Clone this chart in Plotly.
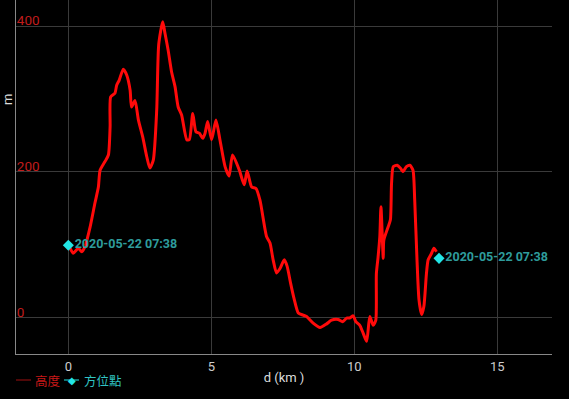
import plotly.graph_objects as go

d_km = [0.06, 0.17, 0.35, 0.47, 0.58, 0.76, 0.93, 1.05, 1.11, 1.28, 1.40, 1.46, 1.48, 1.63, 1.69, 1.78,
        1.92, 2.04, 2.16, 2.21, 2.33, 2.45, 2.60, 2.74, 2.85, 2.97, 3.09, 3.16, 3.30, 3.38, 3.49, 3.61,
        3.73, 3.84, 3.96, 4.14, 4.23, 4.35, 4.46, 4.58, 4.70, 4.78, 4.87, 5.01, 5.16, 5.30, 5.48, 5.62,
        5.74, 5.98, 6.15, 6.25, 6.41, 6.56, 6.70, 6.93, 7.05, 7.16, 7.28, 7.40, 7.55, 7.65, 7.77, 7.89,
        8.04, 8.21, 8.33, 8.56, 8.80, 9.03, 9.20, 9.43, 9.59, 9.73, 9.84, 9.96, 10.05, 10.19, 10.31,
        10.43, 10.54, 10.66, 10.75, 10.77, 10.83, 10.89, 10.93, 11.01, 11.03, 11.18, 11.26, 11.30,
        11.36, 11.50, 11.61, 11.70, 11.82, 11.94, 12.05, 12.11, 12.19, 12.26, 12.35, 12.43, 12.52,
        12.58, 12.70, 12.78, 12.87]
elev_m = [95, 88, 95, 90, 97, 124, 157, 179, 202, 214, 223, 262, 303, 308, 319, 326,
          341, 333, 312, 289, 298, 271, 248, 221, 205, 216, 285, 375, 406, 390, 367, 337,
          317, 289, 278, 244, 244, 280, 255, 253, 246, 253, 269, 244, 271, 244, 207, 194,
          223, 202, 182, 201, 179, 177, 161, 111, 102, 79, 61, 67, 79, 70, 47, 26,
          6, 3, 1, -8, -14, -9, -4, -3, -6, -1, -1, 2, -6, -11, -22,
          -33, 1, -11, -4, 60, 83, 111, 152, 81, 106, 124, 134, 184,
          207, 209, 205, 200, 207, 209, 202, 161, 79, 24, 4, 15, 60,
          79, 88, 95, 90]

wp_d = [0.0, 12.96]
wp_elev = [99, 81]
wp_labels = ["2020-05-22 07:38", "2020-05-22 07:38"]

legend_names = ["高度", "方位點"]

# plot area in pixels
L, R, T, B = 16, 552, 0, 354
W, H = R - L, B - T


def px(x):
    return (x - L) / W


def py(y):
    return (B - y) / H


fig = go.Figure()
fig.add_trace(go.Scatter(
    x=d_km, y=elev_m, mode="lines",
    line=dict(color="#ff0a0a", width=3, shape="spline", smoothing=0.6),
    name=legend_names[0], showlegend=False))
fig.add_trace(go.Scatter(
    x=wp_d, y=wp_elev, mode="markers+text",
    marker=dict(symbol="diamond", size=8.5, color="#22e6e6"),
    text=wp_labels, textposition="middle right",
    textfont=dict(color="#2e9c9c", size=12.5, family="Roboto", weight="bold"),
    name=legend_names[1], showlegend=False))

# y-axis title
fig.add_annotation(text="m", x=px(8), y=py(100), xref="paper", yref="paper", showarrow=False,
                   textangle=-90, xanchor="center", yanchor="middle",
                   font=dict(color="#dddddd", size=13, family="Roboto"))

# custom legend (compact, as in the original)
ly = py(380)
fig.add_shape(type="line", xref="paper", yref="paper", x0=px(16), x1=px(31), y0=ly, y1=ly,
              line=dict(color="#a01010", width=1))
fig.add_annotation(text=legend_names[0], x=px(33), y=ly, xref="paper", yref="paper",
                   showarrow=False, xanchor="left", yanchor="middle",
                   font=dict(color="#c81818", size=12.5, family="Noto Sans CJK TC"))
fig.add_shape(type="line", xref="paper", yref="paper", x0=px(64), x1=px(79), y0=ly, y1=ly,
              line=dict(color="#22e6e6", width=1))
fig.add_annotation(text="◆", x=px(71.5), y=ly, xref="paper", yref="paper",
                   showarrow=False, xanchor="center", yanchor="middle",
                   font=dict(color="#22e6e6", size=10, family="DejaVu Sans"))
fig.add_annotation(text=legend_names[1], x=px(82), y=ly, xref="paper", yref="paper",
                   showarrow=False, xanchor="left", yanchor="middle",
                   font=dict(color="#30c4c4", size=12.5, family="Noto Sans CJK TC"))

fig.update_layout(
    width=569, height=399,
    margin=dict(l=L, r=569 - R, t=T, b=399 - B),
    paper_bgcolor="black", plot_bgcolor="black",
    font=dict(family="Roboto", color="#cccccc", size=12),
    showlegend=False,
)
fig.update_xaxes(range=[-1.83, 16.91], dtick=5, tick0=0, showgrid=True, gridcolor="#3a3a3a",
                 gridwidth=1, zeroline=False, showline=True, linecolor="#888888", linewidth=1,
                 ticks="", tickfont=dict(color="#cccccc", size=13),
                 title=dict(text="d (km )", font=dict(color="#dddddd", size=13), standoff=0))
fig.update_yaxes(range=[-50.4, 436], dtick=200, tick0=0, showgrid=True, gridcolor="#3a3a3a",
                 gridwidth=1, zeroline=False, showline=True, linecolor="#888888", linewidth=1,
                 ticks="", ticklabelposition="inside top", ticklabelshift=4,
                 tickfont=dict(color="#c01c1c", size=13.5))

fig.write_html("out.html")
